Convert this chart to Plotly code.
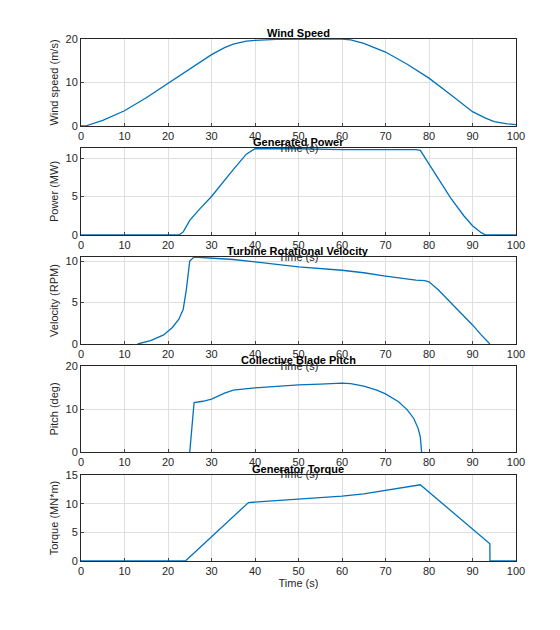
import plotly.graph_objects as go

wind_t = [0, 1, 5, 10, 15, 20, 25, 30, 33, 35, 38, 40, 45, 50, 55, 60, 62, 65, 70, 75, 80, 85, 90, 93, 95, 98, 100]
wind_v = [0, 0, 1.3, 3.5, 6.5, 9.8, 13.0, 16.4, 18.0, 18.8, 19.5, 19.7, 19.9, 20, 20, 20, 19.8, 19.0, 17.0, 14.2, 11.0, 7.2, 3.3, 1.8, 1.0, 0.5, 0.3]

pow_t = [0, 22.5, 23.5, 25, 27, 30, 35, 38, 40, 50, 60, 70, 77, 78, 80, 83, 85, 88, 90, 92, 93, 100]
pow_v = [0, 0, 0.4, 1.9, 3.2, 5.0, 8.5, 10.5, 11.2, 11.2, 11.1, 11.1, 11.1, 11.0, 9.2, 6.6, 4.8, 2.5, 1.2, 0.3, 0, 0]

rot_t = [13, 16, 19, 21, 22.5, 23.5, 24.2, 25, 26, 30, 35, 40, 50, 60, 65, 70, 75, 77, 79, 80, 82, 85, 88, 90, 92, 94]
rot_v = [0, 0.4, 1.1, 2.0, 3.0, 4.2, 6.5, 10.0, 10.5, 10.4, 10.2, 9.9, 9.3, 8.9, 8.6, 8.2, 7.8, 7.7, 7.65, 7.5, 6.6, 5.0, 3.4, 2.3, 1.1, 0]

pitch_t = [25.0, 26.0, 28, 30, 33, 35, 40, 45, 50, 55, 60, 62, 65, 68, 70, 73, 75, 76.5, 77.5, 78.0, 78.3]
pitch_v = [0, 11.5, 11.8, 12.3, 13.7, 14.4, 14.9, 15.3, 15.6, 15.8, 16.0, 15.9, 15.3, 14.4, 13.5, 11.7, 9.8, 7.8, 5.5, 3.5, 0]

torq_t = [0, 24, 38.5, 45, 50, 55, 60, 65, 70, 75, 78, 94, 94.01, 100]
torq_v = [0, 0, 10.2, 10.5, 10.8, 11.0, 11.3, 11.7, 12.3, 13.0, 13.3, 3.0, 0, 0]

panels = [
    ("Wind Speed", "Wind speed (m/s)", wind_t, wind_v, 20, [0, 10, 20], 31, 118),
    ("Generated Power", "Power (MW)", pow_t, pow_v, 11.3, [0, 5, 10], 140, 227),
    ("Turbine Rotational Velocity", "Velocity (RPM)", rot_t, rot_v, 10.5, [0, 5, 10], 249, 336),
    ("Collective Blade Pitch", "Pitch (deg)", pitch_t, pitch_v, 20, [0, 10, 20], 358, 444),
    ("Generator Torque", "Torque (MN*m)", torq_t, torq_v, 15, [0, 5, 10, 15], 467, 553),
]

W, H = 560, 630
fig = go.Figure()
font = dict(family="Liberation Sans, Arial", size=11, color="#262626")
ann = []
for i, (title, ylab, t, v, ymax, yt, top, bot) in enumerate(panels):
    n = "" if i == 0 else str(i + 1)
    fig.add_trace(go.Scatter(x=t, y=v, mode="lines", line=dict(color="#0072BD", width=1.3),
                             xaxis="x" + n, yaxis="y" + n, showlegend=False))
    common = dict(showline=True, linecolor="#262626", linewidth=1, mirror=True, ticks="inside",
                  ticklen=3, showgrid=True, gridcolor="#dfdfdf", zeroline=False, tickfont=font,
                  automargin=False)
    fig.layout["xaxis" + n] = dict(domain=[73 / W, 508 / W], range=[0, 100], dtick=10,
                                   anchor="y" + n, title=dict(text="Time (s)", font=font, standoff=0), **common)
    fig.layout["yaxis" + n] = dict(domain=[1 - bot / H, 1 - top / H], range=[0, ymax], tickvals=yt,
                                   anchor="x" + n, title=dict(text=ylab, font=font, standoff=4), **common)
    ann.append(dict(text="<b>" + title + "</b>", x=290 / W, y=1 - (top - 1) / H, xref="paper", yref="paper",
                    xanchor="center", yanchor="bottom", showarrow=False, yshift=-3,
                    font=dict(family="Liberation Sans, Arial", size=11, color="#000")))
fig.update_layout(width=W, height=H, margin=dict(l=0, r=0, t=0, b=0, autoexpand=False), annotations=ann,
                  plot_bgcolor="white", paper_bgcolor="white")
fig.write_html("out.html")
